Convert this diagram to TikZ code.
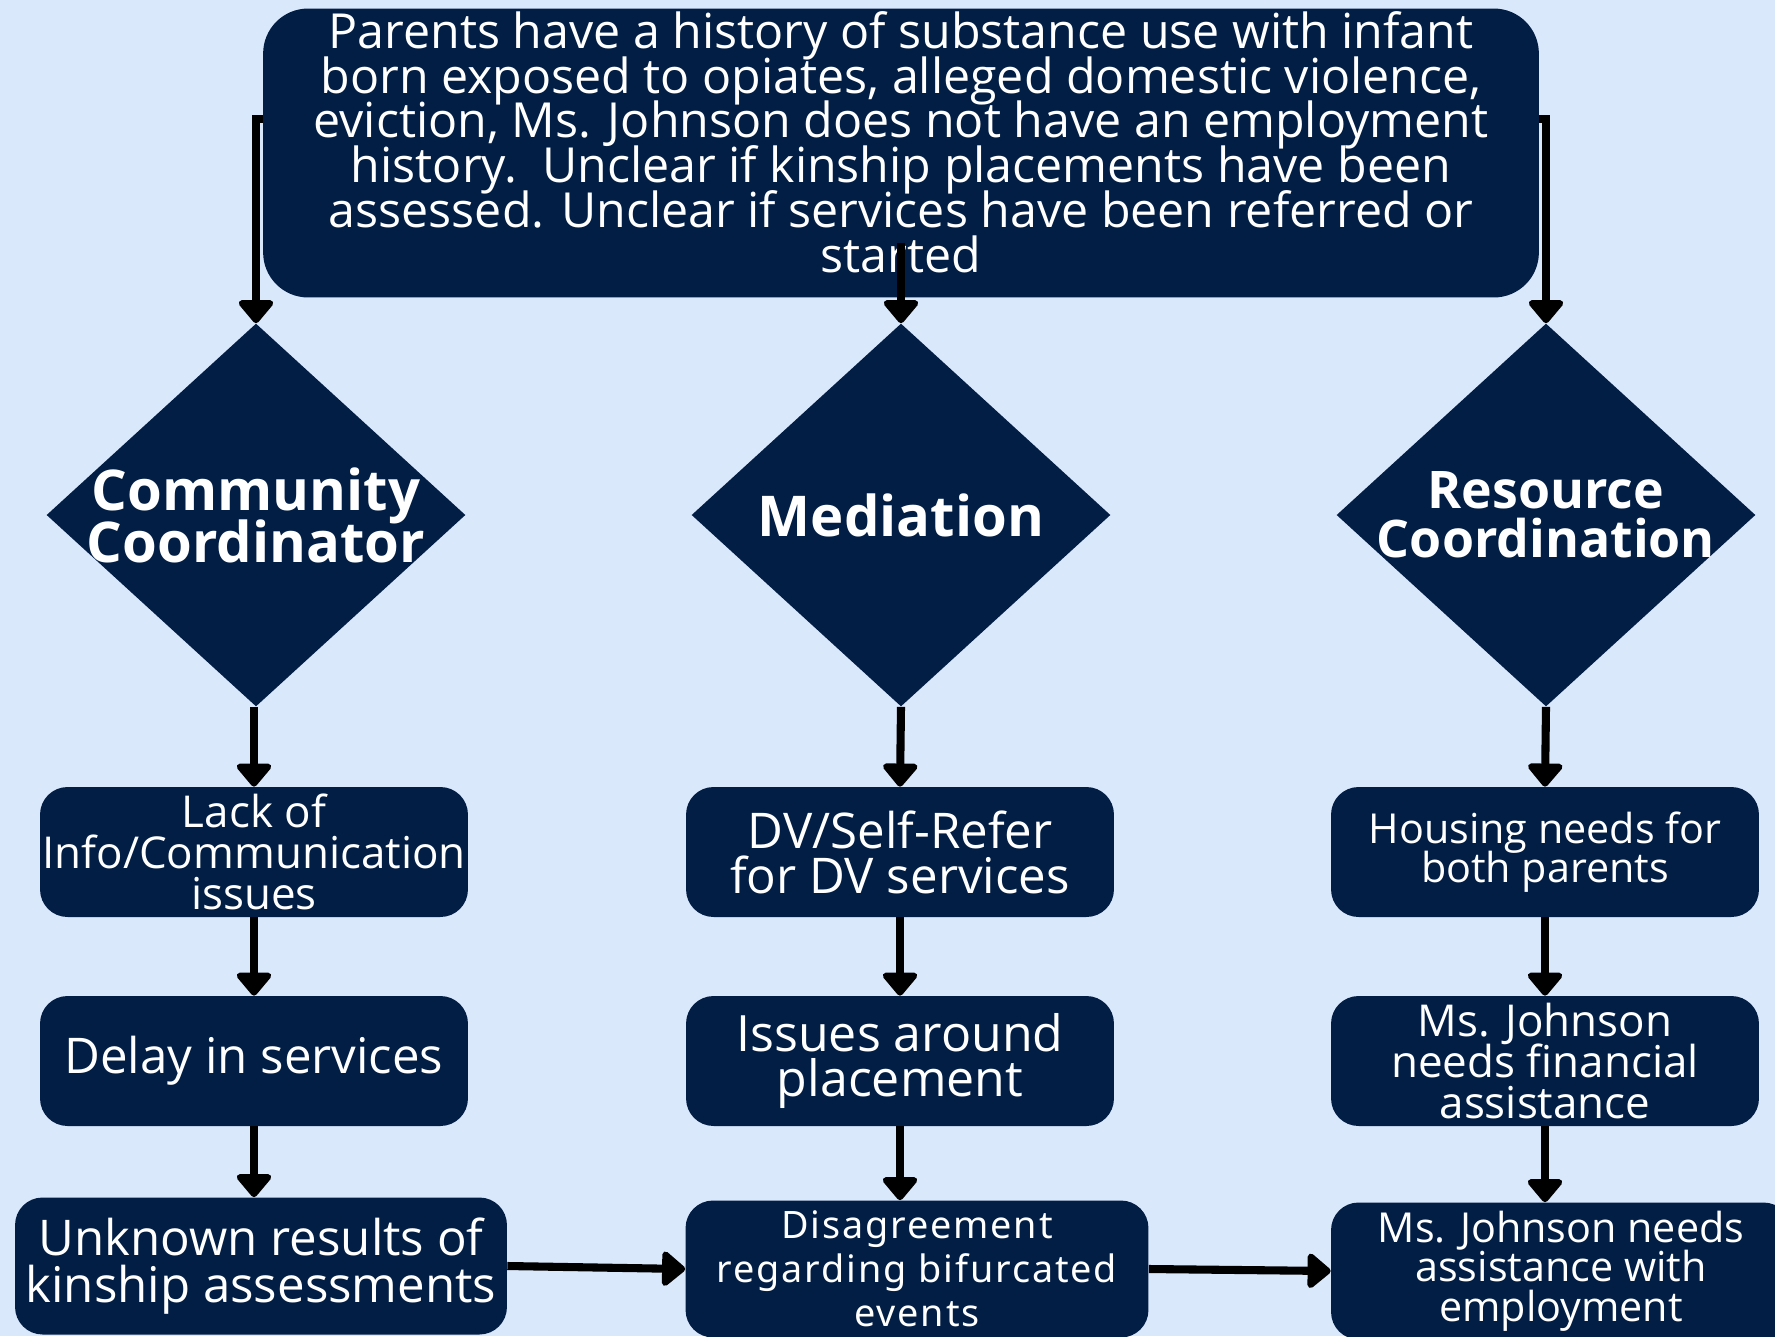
\documentclass[tikz,border=0pt]{standalone}
\usepackage{fontspec}
\setmainfont{Open Sans}
\newfontfamily\eventfont[LetterSpace=5]{Noto Sans}
\usetikzlibrary{arrows.meta,shapes.geometric}
\definecolor{navy}{HTML}{021E44}
\definecolor{paleblue}{HTML}{DAE8FC}
\newcommand{\fs}[2]{\fontsize{#1}{#2}\selectfont\lineskiplimit=-50pt\lineskip=0pt}

\begin{document}
\begin{tikzpicture}[x=0.02cm,y=-0.02cm,
  flow/.style={-{Triangle[width=0.8cm,length=0.5cm,round]},line width=4.6pt,black},
  summary node/.style={rectangle,rounded corners=0.9cm,fill=navy,text=white,align=center,
    minimum width=25.52cm,minimum height=5.78cm,inner sep=0pt,text depth=0.45cm,font=\fs{27.5}{25.5}},
  decision node/.style={diamond,fill=navy,minimum width=8.38cm,minimum height=7.66cm,inner sep=0pt},
  decision text/.style={text=white,align=center,font=\bfseries\fs{32}{29.5}},
  issue node/.style={rectangle,rounded corners=0.55cm,fill=navy,text=white,align=center,
    minimum width=8.56cm,minimum height=2.6cm,inner sep=0pt}]

  \useasboundingbox[fill=paleblue] (0,0) rectangle (1775,1336);

  \node[summary node] (case) at (901,153) {Parents have a history of substance use with infant\\
    born exposed to opiates, alleged domestic violence,\\
    eviction, Ms. Johnson does not have an employment\\
    history.\ \ Unclear if kinship placements have been\\
    assessed. Unclear if services have been referred or\\
    started};

  \node[decision node,label={[decision text]center:{Community\\Coordinator}}] (cc) at (256,515) {};
  \node[decision node,label={[decision text]center:{Mediation}}] (med) at (901,515) {};
  \node[decision node,label={[decision text,font=\bfseries\fs{29.5}{28}]center:{Resource\\Coordination}}] (rc) at (1546,515) {};

  \node[issue node,font=\fs{25}{23.5}] (info) at (254,852) {Lack of\\Info/Communication\\issues};
  \node[issue node,font=\fs{28}{28}] (delay) at (254,1061) {Delay in services};
  \node[issue node,minimum width=9.84cm,minimum height=2.74cm,font=\fs{28}{27}] (kin) at (261,1266)
    {Unknown results of\\kinship assessments};

  \node[issue node,font=\fs{28}{25.6}] (dv) at (900,852) {DV/Self-Refer\\for DV services};
  \node[issue node,font=\fs{28.5}{26}] (place) at (900,1061) {Issues around\\placement};
  \node[issue node,minimum width=9.26cm,minimum height=2.74cm,font=\eventfont\fs{21.5}{25}] (bif) at (917,1269)
    {Disagreement\\regarding bifurcated\\events};

  \node[issue node,font=\fs{23.5}{22.5}] (house) at (1545,852) {Housing needs for\\both parents};
  \node[issue node,font=\fs{25}{23.5}] (money) at (1545,1061) {Ms. Johnson\\needs financial\\assistance};
  \node[issue node,minimum width=9.2cm,minimum height=2.74cm,font=\fs{23.5}{22.5}] (job) at (1561,1271)
    {Ms. Johnson needs\\assistance with\\employment};

  % from the case summary
  \draw[flow] ([yshift=0.68cm]case.west) -| (cc.north);
  \draw[flow] ([yshift=1.1cm]case.south) -- (med.north);
  \draw[flow] ([yshift=0.68cm]case.east) -| (rc.north);

  % down each column
  \draw[flow] (info.north |- cc.south) -- (info.north);
  \draw[flow] (info.south) -- (delay.north);
  \draw[flow] (delay.south) -- (kin.north -| delay.south);
  \draw[flow] (med.south) -- (dv.north);
  \draw[flow] (dv.south) -- (place.north);
  \draw[flow] (place.south) -- (bif.north -| place.south);
  \draw[flow] (rc.south) -- (house.north);
  \draw[flow] (house.south) -- (money.north);
  \draw[flow] (money.south) -- (job.north -| money.south);

  % across the bottom
  \draw[flow] (kin.east) -- (bif.west);
  \draw[flow] (bif.east) -- (job.west);
\end{tikzpicture}
\end{document}
